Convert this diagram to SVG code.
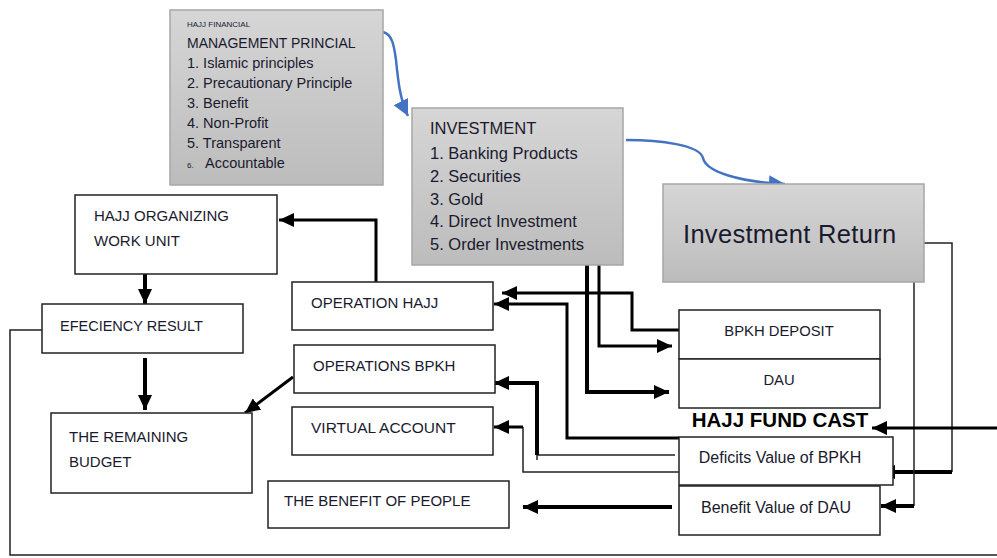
<svg xmlns="http://www.w3.org/2000/svg" width="997" height="558" viewBox="0 0 997 558">
<defs>
<linearGradient id="g" x1="0" y1="0" x2="0" y2="1">
<stop offset="0" stop-color="#d6d6d6"/>
<stop offset="1" stop-color="#bcbcbc"/>
</linearGradient>
<marker id="ah" markerUnits="userSpaceOnUse" markerWidth="16" markerHeight="14" refX="15" refY="7" orient="auto">
<path d="M0,0 L15,7 L0,14 Z" fill="#000"/>
</marker>
<marker id="ab" markerUnits="userSpaceOnUse" markerWidth="18" markerHeight="16" refX="16" refY="8" orient="auto">
<path d="M0,0 L16,8 L0,16 Z" fill="#4472c4"/>
</marker>
</defs>
<style>
.gb{fill:url(#g);stroke:#a6a6a6;stroke-width:1.5}
.wb{fill:#fff;stroke:#222;stroke-width:1.5}
text{font-family:"Liberation Sans",Arial,sans-serif;fill:#1a1a2e}
.t15{font-size:15px}
.p{font-size:14.5px}
.inv{font-size:16.5px}
.v16{font-size:16px}
.thin{fill:none;stroke:#222;stroke-width:1.5}
.thick{fill:none;stroke:#000;stroke-width:4}
.mid{fill:none;stroke:#000;stroke-width:3}
.blue{fill:none;stroke:#4472c4;stroke-width:2.5}
</style>

<g id="connectors">
<path class="blue" d="M383,32 C392,34 394,45 396,60 C398,80 400,100 408,116" marker-end="url(#ab)"/>
<path class="blue" d="M626,140 C660,140 700,145 703,158 C706,172 740,182 785,184" marker-end="url(#ab)"/>
<path class="mid" d="M376,282 L376,220 L279,220" marker-end="url(#ah)"/>
<path class="thick" d="M145,274 L145,304" marker-end="url(#ah)"/>
<path class="thick" d="M145,358 L145,410" marker-end="url(#ah)"/>
<path class="mid" d="M293,377 L245,413" marker-end="url(#ah)"/>
<path class="mid" d="M599,265 L599,346 L672,346" marker-end="url(#ah)"/>
<path class="thick" d="M587,265 L587,392 L669,392" marker-end="url(#ah)"/>
<path class="mid" d="M679,330 L632,330 L632,293 L502,293" marker-end="url(#ah)"/>
<path class="mid" d="M679,438 L567,438 L567,304 L494,304" marker-end="url(#ah)"/>
<path class="thin" d="M675,455 L537,455 L537,460"/>
<path class="thick" d="M537,455 L537,383 L494,383" marker-end="url(#ah)"/>
<path class="thin" d="M679,472 L523,472 L523,427"/>
<path class="mid" d="M523,427 L494,427" marker-end="url(#ah)"/>
<path class="thick" d="M672,507 L523,507" marker-end="url(#ah)"/>
<path class="thin" d="M924,243 L952,243 L952,472"/>
<path class="thick" d="M952,472 L880,472" marker-end="url(#ah)"/>
<path class="thin" d="M914,282 L914,506"/>
<path class="thick" d="M914,506 L881,506" marker-end="url(#ah)"/>
<path class="mid" d="M997,428 L872,428" marker-end="url(#ah)"/>
<path class="thin" d="M42,330 L10,330 L10,555 L997,555"/>
</g>

<g id="principles">
<rect class="gb" x="170" y="10" width="213" height="175"/>
<text x="187" y="27" style="font-size:8px">HAJJ FINANCIAL</text>
<text x="187" y="48" style="font-size:14px">MANAGEMENT PRINCIAL</text>
<text x="187" y="68" class="p">1. Islamic principles</text>
<text x="187" y="88" class="p">2. Precautionary Principle</text>
<text x="187" y="108" class="p">3. Benefit</text>
<text x="187" y="128" class="p">4. Non-Profit</text>
<text x="187" y="148" class="p">5. Transparent</text>
<text x="187" y="168" style="font-size:8px">6.</text>
<text x="205" y="168" class="p">Accountable</text>
</g>

<g id="investment">
<rect class="gb" x="412" y="108" width="211" height="157"/>
<text x="430" y="134" class="inv">INVESTMENT</text>
<text x="430" y="159" class="inv">1. Banking Products</text>
<text x="430" y="182" class="inv">2. Securities</text>
<text x="430" y="205" class="inv">3. Gold</text>
<text x="430" y="227" class="inv">4. Direct Investment</text>
<text x="430" y="250" class="inv">5. Order Investments</text>
</g>

<g id="return">
<rect class="gb" x="663" y="184" width="261" height="98"/>
<text x="683" y="243" style="font-size:25.5px;letter-spacing:0.3px">Investment Return</text>
</g>

<g id="organizing">
<rect class="wb" x="75" y="195" width="202" height="79"/>
<text x="94" y="221" class="t15">HAJJ ORGANIZING</text>
<text x="94" y="246" class="t15">WORK UNIT</text>
</g>

<g id="efficiency">
<rect class="wb" x="42" y="304" width="201" height="49"/>
<text x="60" y="331" style="font-size:14.5px">EFECIENCY RESULT</text>
</g>

<g id="remaining">
<rect class="wb" x="51" y="413" width="201" height="80"/>
<text x="69" y="442" class="t15">THE REMAINING</text>
<text x="69" y="467" class="t15">BUDGET</text>
</g>

<g id="opHajj">
<rect class="wb" x="292" y="282" width="201" height="48"/>
<text x="311" y="308" class="t15">OPERATION HAJJ</text>
</g>

<g id="opBpkh">
<rect class="wb" x="294" y="345" width="201" height="48"/>
<text x="313" y="371" class="t15">OPERATIONS BPKH</text>
</g>

<g id="virtual">
<rect class="wb" x="292" y="407" width="201" height="48"/>
<text x="311" y="433" style="font-size:15.5px">VIRTUAL ACCOUNT</text>
</g>

<g id="people">
<rect class="wb" x="268" y="481" width="241" height="47"/>
<text x="284" y="506" class="t15">THE BENEFIT OF PEOPLE</text>
</g>

<g id="deposit">
<rect class="wb" x="679" y="310" width="201" height="49"/>
<text x="779" y="336" style="font-size:14.8px" text-anchor="middle">BPKH DEPOSIT</text>
</g>

<g id="dau">
<rect class="wb" x="679" y="359" width="201" height="49"/>
<text x="779" y="385" style="font-size:14.8px" text-anchor="middle">DAU</text>
</g>

<g id="fundcast">
<text x="780" y="427" text-anchor="middle" style="font-size:20.5px;font-weight:bold;fill:#000">HAJJ FUND CAST</text>
</g>

<g id="deficits">
<rect class="wb" x="679" y="437" width="214" height="48"/>
<text x="780" y="463" class="v16" text-anchor="middle">Deficits Value of BPKH</text>
</g>

<g id="benefitDau">
<rect class="wb" x="679" y="486" width="201" height="49"/>
<text x="776" y="513" class="v16" text-anchor="middle">Benefit Value of DAU</text>
</g>
</svg>
